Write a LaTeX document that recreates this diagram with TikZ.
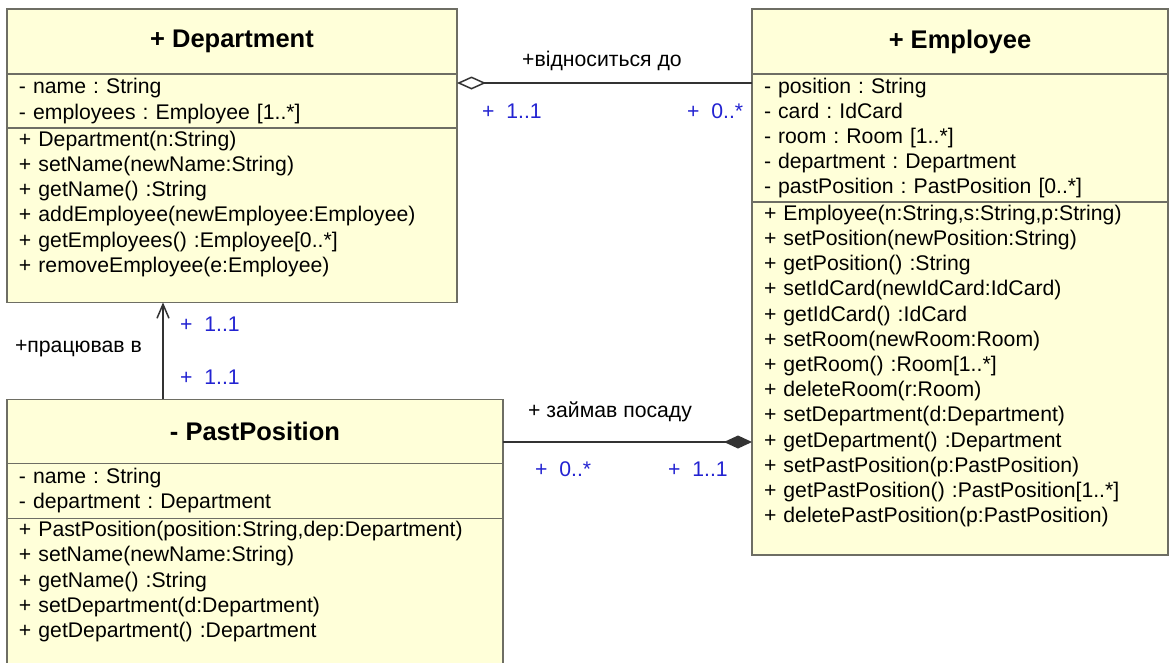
\documentclass[tikz,border=0pt]{standalone}
\usepackage{fontspec}
\setmainfont{Liberation Sans}
\usetikzlibrary{positioning,arrows.meta,calc}

\definecolor{clsfill}{RGB}{255,255,217}
\definecolor{clsline}{RGB}{110,110,100}
\definecolor{multblue}{RGB}{35,35,210}
\newcommand{\tailgap}[1]{\rule[-#1]{0pt}{0pt}}
\frenchspacing

\begin{document}
\begin{tikzpicture}[x=1pt, y=-1pt,
  cls/.style={draw=clsline, line width=1.6pt, fill=clsfill, outer sep=0pt},
  ttl/.style={cls, font=\fontsize{25.5}{29}\selectfont\bfseries, minimum height=65pt, inner sep=0pt},
  sect/.style={cls, align=left, font=\fontsize{21.2}{25.2}\selectfont, inner xsep=12pt, inner ysep=3pt},
  lbl/.style={font=\fontsize{21.2}{25}\selectfont, inner sep=0pt, text height=15pt, text depth=4pt},
  mult/.style={lbl, text=multblue},
  link/.style={draw=black!80, line width=1.5pt},
  aggr/.style={link, -{Diamond[open, length=29pt, width=13pt]}},
  compos/.style={link, -{Diamond[length=28pt, width=13pt]}},
  nav/.style={link, -{Straight Barb[length=14pt, width=12pt]}}]
  \fill[white] (0,0) rectangle (1171,662);
  \useasboundingbox (0,0) rectangle (1171,662);
  \clip (0,0) rectangle (1171,662);

  % Department
  \node[ttl, minimum width=450pt] (dept) at (232,41.5) {+ Department};
  \node[sect, text width=426pt, minimum height=54pt, below=0pt of dept] (dept-attr)
    {- name : String\\- employees : Employee [1..*]};
  \node[sect, text width=426pt, below=0pt of dept-attr] (dept-ops)
    {+ Department(n:String)\\+ setName(newName:String)\\+ getName() :String\\
     + addEmployee(newEmployee:Employee)\\+ getEmployees() :Employee[0..*]\\
     + removeEmployee(e:Employee)\tailgap{27pt}};

  % Employee
  \node[ttl, minimum width=416pt, right=295pt of dept] (emp) {+ Employee};
  \node[sect, text width=392pt, minimum height=128pt, below=0pt of emp] (emp-attr)
    {- position : String\\- card : IdCard\\- room : Room [1..*]\\
     - department : Department\\- pastPosition : PastPosition [0..*]};
  \node[sect, text width=392pt, below=0pt of emp-attr] (emp-ops)
    {+ Employee(n:String,s:String,p:String)\\+ setPosition(newPosition:String)\\
     + getPosition() :String\\+ setIdCard(newIdCard:IdCard)\\+ getIdCard() :IdCard\\
     + setRoom(newRoom:Room)\\+ getRoom() :Room[1..*]\\+ deleteRoom(r:Room)\\
     + setDepartment(d:Department)\\+ getDepartment() :Department\\
     + setPastPosition(p:PastPosition)\\+ getPastPosition() :PastPosition[1..*]\\
     + deletePastPosition(p:PastPosition)\tailgap{29pt}};

  % PastPosition
  \node[ttl, minimum width=496pt, minimum height=64pt,
        below=97pt of dept-ops.south west, anchor=north west] (past) {- PastPosition};
  \node[sect, text width=472pt, minimum height=55pt, below=0pt of past] (past-attr)
    {- name : String\\- department : Department};
  \node[sect, text width=472pt, below=0pt of past-attr] (past-ops)
    {+ PastPosition(position:String,dep:Department)\\+ setName(newName:String)\\
     + getName() :String\\+ setDepartment(d:Department)\\
     + getDepartment() :Department\tailgap{60pt}};

  % links
  \coordinate (aggy) at (0,83);
  \coordinate (navx) at (163,0);
  \coordinate (cmpy) at (0,442);
  \draw[aggr] (emp-attr.west |- aggy) -- (dept-attr.east |- aggy);
  \draw[nav] (past.north -| navx) -- (dept-ops.south -| navx);
  \draw[compos] (past.east |- cmpy) -- (emp-ops.west |- cmpy);

  \node[lbl] (agg-name) at (602,61) {+відноситься до};
  \node[mult, anchor=west] (agg-m1) at (482,113) {+~~1..1};
  \node[mult, anchor=west] (agg-m2) at (687,113) {+~~0..*};
  \node[lbl, anchor=east] (nav-name) at (142,347) {+працював в};
  \node[mult, anchor=west] (nav-m1) at (180,326) {+~~1..1};
  \node[mult, anchor=west] (nav-m2) at (180,379) {+~~1..1};
  \node[lbl, anchor=west] (cmp-name) at (528,412) {+ займав посаду};
  \node[mult, anchor=west] (cmp-m1) at (535,471) {+~~0..*};
  \node[mult, anchor=west] (cmp-m2) at (668,471) {+~~1..1};
\end{tikzpicture}
\end{document}
